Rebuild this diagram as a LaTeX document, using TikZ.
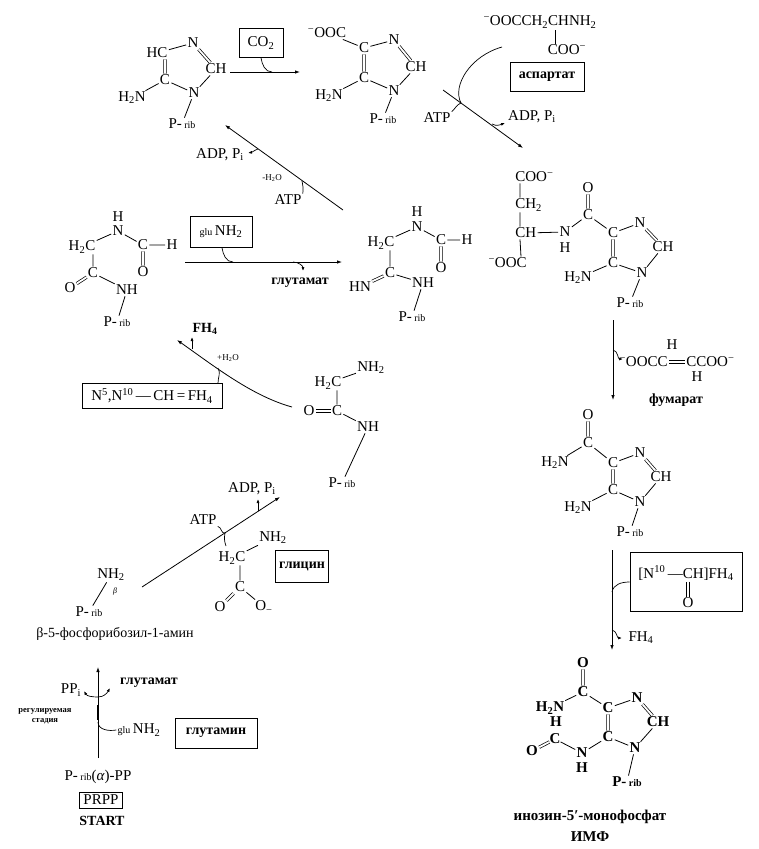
\documentclass[tikz,border=0pt]{standalone}
\usepackage{fontspec}
\setmainfont{Liberation Serif}
\usetikzlibrary{arrows.meta}
\newcommand{\chsub}[1]{\textsubscript{#1}}
\newcommand{\chsup}[1]{\textsuperscript{#1}}
\newcommand{\prib}{P-\,{\fontsize{10}{10}\selectfont rib}}
\newcommand{\glu}{{\fontsize{10}{10}\selectfont glu}}
\begin{document}
\begin{tikzpicture}[x=1pt,y=-1pt,
    every node/.style={font=\fontsize{15}{16}\selectfont,inner sep=1.2pt},
    bd/.style={line width=0.8pt},
    dbl/.style={double,double distance=1.8pt,line width=0.7pt},
    rx/.style={line width=0.8pt,-{Latex[length=5pt,width=3.5pt]}},
    sd/.style={line width=0.7pt},
    sdx/.style={line width=0.7pt,-{Latex[length=4pt,width=3pt]}},
    bx/.style={draw,line width=0.8pt,inner sep=2pt},
    sm/.style={font=\fontsize{9}{10}\selectfont},
    lb/.style={font=\bfseries\fontsize{14}{15}\selectfont}]
\useasboundingbox (0,0) rectangle (758,849);

% aminoimidazole ribotide
\node (hc1) at (157,53) {HC};
\node (n1) at (193,43) {N};
\node (ch1) at (216,69) {CH};
\node (c1) at (165,80) {C};
\node (n2) at (194,93) {N};
\node (nh1) at (132,98) {H\chsub{2}N};
\node (pr1) at (182,124) {\prib};
\draw[bd] (hc1) -- (n1) (ch1) -- (n2) -- (c1) -- (nh1) (n2) -- (pr1);
\draw[dbl] (n1) -- (ch1) (hc1.south -| c1) -- (c1);

% carboxylation
\coordinate (a1s) at (230,72);
\coordinate (a1e) at (300,72);
\coordinate (a1m) at (272,72);
\draw[rx] (a1s) -- (a1e);
\node[bx,minimum width=44pt,minimum height=29pt] (co2) at (261,43) {CO\chsub{2}};
\draw[sd] (co2.south) to[out=-80,in=180] (a1m);

% carboxyaminoimidazole ribotide
\node (oc2) at (327,33) {\chsup{−}OOC};
\node (c2a) at (364,48) {C};
\node (n2a) at (394,40) {N};
\node (ch2) at (416,67) {CH};
\node (c2b) at (364,78) {C};
\node (n2b) at (394,91) {N};
\node (nh2) at (329,96) {H\chsub{2}N};
\node (pr2) at (383,119) {\prib};
\draw[bd] (oc2) -- (c2a) -- (n2a) (ch2) -- (n2b) -- (c2b) -- (nh2) (n2b) -- (pr2);
\draw[dbl] (n2a) -- (ch2) (c2a) -- (c2b);

% aspartate
\node (asp) at (540,22) {\chsup{−}OOCCH\chsub{2}CHNH\chsub{2}};
\node (asc) at (567,50) {COO\chsup{−}};
\coordinate (asb) at (555,30);
\draw[bd] (asb) -- (asb |- asc.north);
\node[bx,lb,minimum width=74pt,minimum height=29pt] (aspb) at (547,77) {аспартат};
\coordinate (a2s) at (443,90);
\coordinate (a2e) at (523,148);
\coordinate (a2m) at (461,103);
\coordinate (a2q) at (492,124);
\coordinate (a2r) at (505,123);
\coordinate (as0) at (502,47);
\draw[rx] (a2s) -- (a2e);
\draw[sd] (as0) .. controls (470,56) and (452,86) .. (a2m);
\node (atp2) at (437,118) {ATP};
\draw[sd] (atp2.north east) to[out=40,in=200] (a2m);
\draw[sdx] (a2q) to[out=-30,in=200] (a2r);
\node (adp2) at (532,117) {ADP, P\chsub{i}};

% SAICAR
\node[anchor=west] (coo3) at (514,177) {COO\chsup{−}};
\node[anchor=west] (ch23) at (514,205) {CH\chsub{2}};
\node[anchor=west] (ch3) at (514,233) {CH};
\node[anchor=east] (oc3) at (528,263) {\chsup{−}OOC};
\node (n3) at (565,232) {N};
\node (h3) at (565,248) {H};
\node (c3o) at (588,215) {C};
\node (o3) at (588,188) {O};
\node (c3a) at (613,233) {C};
\node (n3a) at (640,223) {N};
\node (ch3b) at (663,247) {CH};
\node (n3b) at (642,273) {N};
\node (c3b) at (613,263) {C};
\node (nh3) at (578,278) {H\chsub{2}N};
\node (pr3) at (630,303) {\prib};
\draw[bd] ([xshift=6pt]coo3.south west) -- ([xshift=6pt]ch23.north west)
  ([xshift=6pt]ch23.south west) -- ([xshift=6pt]ch3.north west)
  ([xshift=6pt]ch3.south west) -- ([xshift=-7pt]oc3.north east);
\draw[bd] (ch3) -- (n3) -- (c3o) -- (c3a) -- (n3a) (ch3b) -- (n3b) -- (c3b) -- (nh3) (n3b) -- (pr3);
\draw[dbl] (c3o) -- (o3) (n3a) -- (ch3b) (c3a) -- (c3b);

% fumarate release
\coordinate (a3s) at (613,320);
\coordinate (a3e) at (613,400);
\coordinate (a3m) at (613,350);
\coordinate (a3n) at (623,359);
\draw[rx] (a3s) -- (a3e);
\draw[sdx] (a3m) to[out=-10,in=180] (a3n);
\node[anchor=east] (fl) at (669,362) {\chsup{−}OOCC};
\node[anchor=west] (fr) at (685,362) {CCOO\chsup{−}};
\draw[dbl] (fl) -- (fr);
\node (fh1) at (672,345) {H};
\node (fh2) at (697,377) {H};
\node[lb] (fum) at (676,400) {фумарат};

% AICAR
\node (o4) at (588,415) {O};
\node (c4o) at (588,443) {C};
\node (nh4a) at (555,463) {H\chsub{2}N};
\node (c4a) at (613,463) {C};
\node (n4a) at (640,453) {N};
\node (ch4) at (661,477) {CH};
\node (c4b) at (613,490) {C};
\node (n4b) at (640,502) {N};
\node (nh4b) at (578,508) {H\chsub{2}N};
\node (pr4) at (630,532) {\prib};
\draw[bd] (c4o) -- (nh4a) (c4o) -- (c4a) -- (n4a) (ch4) -- (n4b) -- (c4b) -- (nh4b) (n4b) -- (pr4);
\draw[dbl] (o4) -- (c4o) (n4a) -- (ch4) (c4a) -- (c4b);

% formylation
\coordinate (a4s) at (612,550);
\coordinate (a4e) at (612,650);
\coordinate (a4m) at (612,592);
\coordinate (a4n) at (612,630);
\coordinate (a4o) at (622,638);
\draw[rx] (a4s) -- (a4e);
\node[bx,minimum width=112pt,minimum height=59pt] (fbox) at (686,582) {};
\node (ftx) at (686,573) {[N\chsup{10}\,—CH]FH\chsub{4}};
\node (fo) at (688,603) {O};
\draw[dbl] (ftx.south -| fo) -- (fo);
\draw[sd] (fbox.west) to[out=180,in=80] (a4m);
\draw[sdx] (a4n) to[out=-10,in=180] (a4o);
\node (fh4b) at (641,638) {FH\chsub{4}};

% IMP
\begin{scope}[every node/.append style={font=\bfseries\fontsize{15}{16}\selectfont}]
\node (o5) at (583,663) {O};
\node (c5) at (583,692) {C};
\node (nh5) at (550,708) {H\chsub{2}N};
\node[inner sep=0pt] (h5) at (556,722) {H};
\node[inner sep=0pt] (c5l) at (555,739) {C};
\node (o5l) at (532,751) {O};
\node (n5) at (582,753) {N};
\node (h5b) at (582,768) {H};
\node (c5a) at (608,708) {C};
\node (c5b) at (608,737) {C};
\node (n5a) at (637,698) {N};
\node (ch5) at (658,722) {CH};
\node (n5b) at (635,748) {N};
\node (pr5) at (627,782) {\prib};
\end{scope}
\draw[bd] (c5) -- (nh5) (c5) -- (c5a) -- (n5a) (ch5) -- (n5b) -- (c5b) -- (n5) -- (c5l) (n5b) -- (pr5);
\draw[dbl] (o5) -- (c5) (n5a) -- (ch5) (c5a) -- (c5b) (c5l) -- (o5l);
\node[lb,font=\bfseries\fontsize{15}{16}\selectfont] (imp1) at (590,817) {инозин-5′-монофосфат};
\node[lb,font=\bfseries\fontsize{15}{16}\selectfont] (imp2) at (590,837) {ИМФ};

% FGAM -> AIR
\coordinate (a5s) at (343,210);
\coordinate (a5e) at (225,125);
\coordinate (a5m) at (258,149);
\coordinate (a5n) at (248,153);
\coordinate (a5p) at (302,181);
\draw[rx] (a5s) -- (a5e);
\draw[sdx] (a5m) to[out=200,in=10] (a5n);
\node (adp5) at (220,155) {ADP, P\chsub{i}};
\node[sm] (h2o5) at (272,178) {-H\chsub{2}O};
\node (atp5) at (288,200) {ATP};
\draw[sd] (atp5.north east) to[out=80,in=-80] (a5p);

% FGAR
\node (hf) at (118,217) {H};
\node (nf) at (118,231) {N};
\node (cf) at (143,245) {C};
\node (hf2) at (172,245) {H};
\node (of) at (143,272) {O};
\node (h2cf) at (82,247) {H\chsub{2}C};
\node (cf2) at (93,273) {C};
\node (of2) at (70,288) {O};
\node (nhf) at (127,290) {NH};
\node (prf) at (117,322) {\prib};
\draw[bd] (h2cf) -- (nf) -- (cf) -- (hf2) (cf2) -- (nhf) -- (prf) (h2cf.south -| cf2) -- (cf2);
\draw[dbl] (cf) -- (of) (cf2) -- (of2);

% FGAR -> FGAM
\coordinate (a6s) at (185,262);
\coordinate (a6e) at (342,262);
\coordinate (a6m) at (233,262);
\coordinate (a6n) at (293,262);
\coordinate (a6o) at (303,271);
\draw[rx] (a6s) -- (a6e);
\node[bx,minimum width=62pt,minimum height=31pt] (glnb) at (221,232) {\glu\,NH\chsub{2}};
\draw[sd] ([xshift=1pt]glnb.south) to[out=-80,in=180] (a6m);
\draw[sdx] (a6n) to[out=0,in=90] (a6o);
\node[lb] (glu6) at (300,283) {глутамат};

% FGAM
\node (hm) at (417,212) {H};
\node (nm) at (417,227) {N};
\node (cm) at (441,240) {C};
\node (hm2) at (467,240) {H};
\node (om) at (441,268) {O};
\node (h2cm) at (381,243) {H\chsub{2}C};
\node (cm2) at (390,273) {C};
\node (hnm) at (360,287) {HN};
\node (nhm) at (423,283) {NH};
\node (prm) at (412,317) {\prib};
\draw[bd] (h2cm) -- (nm) -- (cm) -- (hm2) (cm2) -- (nhm) -- (prm) (h2cm.south -| cm2) -- (cm2);
\draw[dbl] (cm) -- (om) (cm2) -- (hnm);

% GAR -> FGAR
\coordinate (a7s) at (292,407);
\coordinate (a7e) at (177,340);
\coordinate (a7m) at (192,349);
\coordinate (a7n) at (192,337);
\coordinate (a7p) at (218,368);
\draw[rx] (a7s) .. controls (252,396) and (214,366) .. (a7e);
\draw[sdx] (a7m) -- (a7n);
\node[lb] (fh47) at (205,329) {FH\chsub{4}};
\node[sm] (h2o7) at (228,358) {+H\chsub{2}O};
\node[bx,minimum width=140pt,minimum height=25pt] (thf) at (152,396) {N\chsup{5},N\chsup{10}\,—\,CH\,=\,FH\chsub{4}};
\draw[sd] (thf.north -| a7p) to[out=90,in=-60] (a7p);

% GAR
\node (nh2g) at (371,368) {NH\chsub{2}};
\node (h2cg) at (328,383) {H\chsub{2}C};
\node (cg) at (337,411) {C};
\node (og) at (309,411) {O};
\node (nhg) at (368,427) {NH};
\node (prg) at (342,483) {\prib};
\draw[bd] (h2cg) -- (nh2g) (h2cg.south -| cg) -- (cg) (cg) -- (nhg) -- (prg);
\draw[dbl] (og) -- (cg);

% glycine step
\coordinate (a8s) at (142,587);
\coordinate (a8e) at (280,497);
\coordinate (a8m) at (225,533);
\coordinate (a8n) at (258,511);
\coordinate (a8o) at (258,499);
\coordinate (a8p) at (226,546);
\draw[rx] (a8s) -- (a8e);
\node (atp8) at (203,520) {ATP};
\draw[sd] (atp8.south east) to[out=-10,in=200] (a8m);
\draw[sd] (a8p) to[out=110,in=-100] (a8m);
\draw[sdx] (a8n) -- (a8o);
\node (adp8) at (252,489) {ADP, P\chsub{i}};
\node (nh2y) at (273,538) {NH\chsub{2}};
\node (h2cy) at (232,558) {H\chsub{2}C};
\node (cy) at (240,587) {C};
\node (oy) at (220,607) {O};
\node (omy) at (264,607) {O\chsub{−}};
\draw[bd] (h2cy) -- (nh2y) (h2cy.south -| cy) -- (cy) (cy) -- (omy);
\draw[dbl] (cy) -- (oy);
\node[bx,lb,minimum width=53pt,minimum height=32pt] (glyb) at (302,566) {глицин};

% PRA
\node (nh2b) at (111,575) {NH\chsub{2}};
\node[font=\itshape\fontsize{8}{8}\selectfont] (bet) at (115,592) {β};
\node (prb) at (89,612) {\prib};
\draw[bd] (nh2b) -- (prb);
\node[font=\fontsize{14}{15}\selectfont] (pra) at (115,634) {β-5-фосфорибозил-1-амин};

% PRPP step
\coordinate (a9s) at (98,758);
\coordinate (a9e) at (98,667);
\coordinate (a9m) at (98,697);
\coordinate (a9l) at (84,691);
\coordinate (a9r) at (110,688);
\coordinate (a9g) at (98,722);
\coordinate (a9t) at (98,705);
\coordinate (a9u) at (98,720);
\draw[rx] (a9s) -- (a9e);
\draw[line width=2pt] (a9t) -- (a9u);
\draw[sdx] (a9m) to[out=180,in=-60] (a9l);
\draw[sdx] (a9m) to[out=0,in=-120] (a9r);
\node (ppi) at (71,690) {PP\chsub{i}};
\node[lb] (glu9) at (149,683) {глутамат};
\node[font=\bfseries\fontsize{8.5}{9}\selectfont] (reg1) at (45,711) {регулируемая};
\node[font=\bfseries\fontsize{8.5}{9}\selectfont] (reg2) at (45,721) {стадия};
\node (gln9) at (139,730) {\glu\,NH\chsub{2}};
\draw[sd] (gln9.west) to[out=190,in=-90] (a9g);
\node[bx,lb,minimum width=82pt,minimum height=30pt] (glnbox) at (216,733) {глутамин};
\node (prpp) at (98,777) {P-\,{\fontsize{10}{10}\selectfont rib}(\textit{α})-PP};
\node[bx,minimum width=43pt,minimum height=16pt,inner sep=1pt] (prppb) at (101,800) {PRPP};
\node[lb] (start) at (102,821) {START};
\end{tikzpicture}
\end{document}
